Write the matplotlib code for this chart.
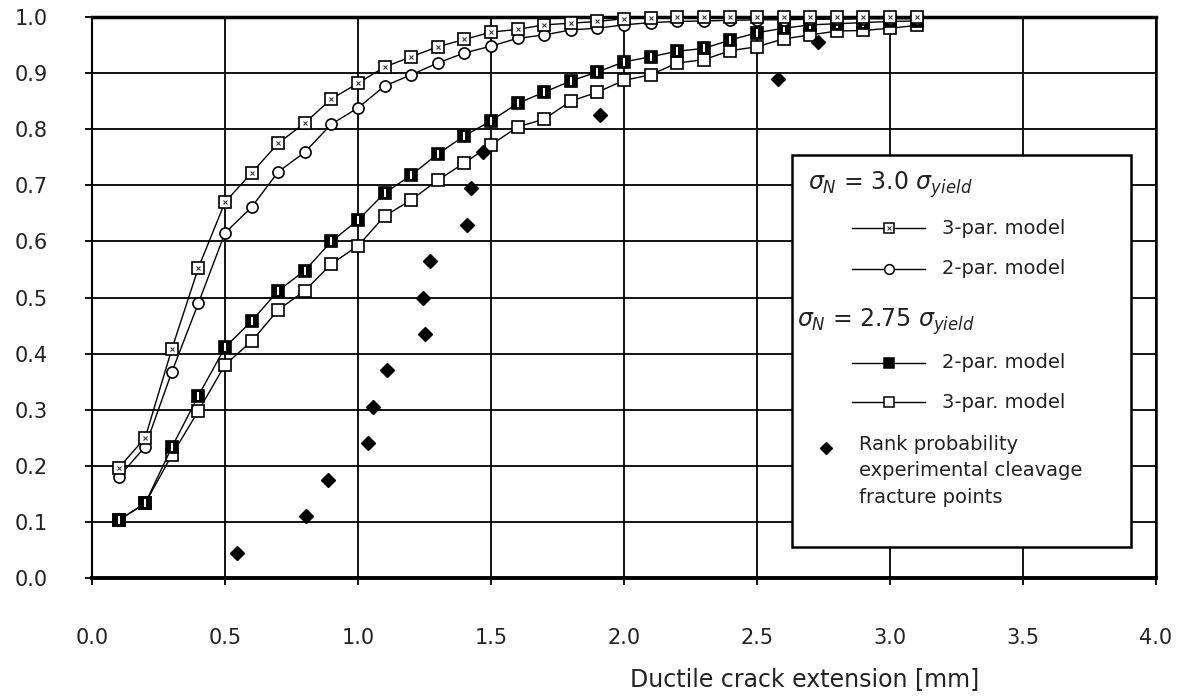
import matplotlib
matplotlib.use("Agg")
import matplotlib.pyplot as plt
from matplotlib.lines import Line2D
from matplotlib.patches import Rectangle

plt.rcParams['font.family'] = ['DejaVu Sans']
plt.rcParams['mathtext.fontset'] = 'dejavusans'

# crack extension values of the model curves [mm]
crack = [0.1, 0.2, 0.3, 0.4, 0.5, 0.6, 0.7, 0.8, 0.9, 1.0, 1.1, 1.2, 1.3, 1.4, 1.5, 1.6,
         1.7, 1.8, 1.9, 2.0, 2.1, 2.2, 2.3, 2.4, 2.5, 2.6, 2.7, 2.8, 2.9, 3.0, 3.1]

# sigma_N = 3.0 sigma_yield
p3_30 = [0.196, 0.250, 0.408, 0.553, 0.670, 0.722, 0.775, 0.811, 0.854, 0.882, 0.911, 0.929,
         0.947, 0.960, 0.973, 0.978, 0.986, 0.989, 0.992, 0.997, 0.999, 1.0, 1.0, 1.0, 1.0,
         1.0, 1.0, 1.0, 1.0, 1.0, 1.0]
p2_30 = [0.180, 0.234, 0.367, 0.490, 0.615, 0.661, 0.724, 0.759, 0.809, 0.838, 0.877, 0.897,
         0.918, 0.936, 0.948, 0.962, 0.968, 0.977, 0.980, 0.986, 0.990, 0.992, 0.993, 0.994,
         0.995, 0.995, 0.996, 0.996, 0.997, 0.997, 0.997]

# sigma_N = 2.75 sigma_yield
p2_275 = [0.103, 0.133, 0.233, 0.325, 0.411, 0.458, 0.512, 0.548, 0.600, 0.638, 0.686, 0.718,
          0.756, 0.788, 0.815, 0.846, 0.866, 0.886, 0.902, 0.920, 0.929, 0.939, 0.944, 0.959,
          0.972, 0.980, 0.986, 0.988, 0.990, 0.992, 0.993]
p3_275 = [0.103, 0.133, 0.219, 0.298, 0.380, 0.422, 0.478, 0.512, 0.560, 0.592, 0.645, 0.674,
          0.709, 0.740, 0.772, 0.804, 0.818, 0.850, 0.866, 0.887, 0.897, 0.918, 0.924, 0.940,
          0.947, 0.961, 0.968, 0.975, 0.976, 0.980, 0.985]

# experimental cleavage fracture points, rank probability
exp_crack = [0.545, 0.805, 0.887, 1.038, 1.056, 1.11, 1.25, 1.245, 1.27, 1.41, 1.425, 1.47,
             1.91, 2.58, 2.73]
exp_rank = [0.045, 0.110, 0.175, 0.240, 0.305, 0.370, 0.435, 0.500, 0.565, 0.630, 0.695,
            0.760, 0.825, 0.890, 0.955]

xticks = [0.0, 0.5, 1.0, 1.5, 2.0, 2.5, 3.0, 3.5, 4.0]
yticks = [0.0, 0.1, 0.2, 0.3, 0.4, 0.5, 0.6, 0.7, 0.8, 0.9, 1.0]

fig = plt.figure(figsize=(11.89, 7), dpi=100)
ax = fig.add_axes([92 / 1189, 122 / 700, 1064 / 1189, 561 / 700])
ax.set_xlim(0, 4)
ax.set_ylim(0, 1)
ax.set_xticks(xticks)
ax.set_yticks(yticks)
ax.set_xticklabels([f'{v:.1f}' for v in xticks])
ax.set_yticklabels([f'{v:.1f}' for v in yticks])
ax.grid(True, color='black', lw=1.3)
ax.set_axisbelow(True)
ax.tick_params(axis='x', direction='out', length=5, width=1.3, pad=31, labelsize=15,
               labelcolor='#222222')
ax.tick_params(axis='y', direction='out', length=5, width=1.3, pad=27, labelsize=15,
               labelcolor='#222222')
for side, w in [('top', 2.5), ('bottom', 2.8), ('left', 1.5), ('right', 1.8)]:
    ax.spines[side].set_linewidth(w)
    ax.spines[side].set_color('black')

sq = dict(marker='s', ms=8.5, mec='black', mew=1.2, color='black', lw=1, clip_on=False)

def hatched(y):
    ax.plot(crack, y, mfc='white', zorder=4, **sq)
    ax.plot(crack, y, ls='none', marker='x', ms=3.5, mew=0.8, color='0.25', zorder=4.1,
            clip_on=False)

def filled(y):
    ax.plot(crack, y, mfc='black', zorder=3, **sq)
    ax.plot(crack, y, ls='none', marker='|', ms=6, mew=1.5, color='white', zorder=3.1,
            clip_on=False)

ax.plot(crack, p3_275, mfc='white', zorder=3, **sq)
filled(p2_275)
ax.plot(crack, p2_30, marker='o', ms=8, mfc='white', mec='black', mew=1.2, color='black',
        lw=1, zorder=4, clip_on=False)
hatched(p3_30)
ax.plot(exp_crack, exp_rank, ls='none', marker='D', ms=7, color='black', zorder=5)

ax.set_xlabel('Ductile crack extension [mm]', fontsize=17, color='#222222')
ax.xaxis.set_label_coords((805 - 92) / 1064, (578 - 667) / 561)


# legend drawn by hand, pixel positions of the reference converted to axes fraction
def px(x, y):
    return (x - 92) / 1064, (578 - y) / 561

x0, y0 = px(792, 547)
x1, y1 = px(1131, 155)
ax.add_patch(Rectangle((x0, y0), x1 - x0, y1 - y0, transform=ax.transAxes, fc='white',
                       ec='black', lw=1.8, zorder=6, clip_on=False))

fs = 14
ax.text(*px(808, 185), r'$\sigma_{\mathit{N}}$ = 3.0 $\sigma_{\mathit{yield}}$',
        transform=ax.transAxes, fontsize=17, va='center', zorder=7, color='#222222')
ax.text(*px(797, 322), r'$\sigma_{\mathit{N}}$ = 2.75 $\sigma_{\mathit{yield}}$',
        transform=ax.transAxes, fontsize=17, va='center', zorder=7, color='#222222')

entries = [(228, 'hatched', '3-par. model'), (269, 'circle', '2-par. model'),
           (363, 'filled', '2-par. model'), (402, 'open', '3-par. model')]
for ypix, kind, label in entries:
    xa, ya = px(852, ypix)
    xb, _ = px(925, ypix)
    xm, _ = px(889, ypix)
    ax.add_line(Line2D([xa, xb], [ya, ya], transform=ax.transAxes, color='black', lw=1,
                       zorder=7))
    if kind == 'circle':
        ax.add_line(Line2D([xm], [ya], transform=ax.transAxes, marker='o', ms=7, mfc='white',
                           mec='black', mew=1.1, zorder=8))
    else:
        face = 'black' if kind == 'filled' else 'white'
        ax.add_line(Line2D([xm], [ya], transform=ax.transAxes, marker='s', ms=7, mfc=face,
                           mec='black', mew=1.1, zorder=8))
        if kind == 'hatched':
            ax.add_line(Line2D([xm], [ya], transform=ax.transAxes, marker='x', ms=3, mew=0.8,
                               color='0.25', zorder=9))
    ax.text(*px(942, ypix), label, transform=ax.transAxes, fontsize=fs, va='center', zorder=7,
            color='#222222')

xd, yd = px(826, 448)
ax.add_line(Line2D([xd], [yd], transform=ax.transAxes, marker='D', ms=6, color='black',
                   zorder=8))
ax.text(*px(859, 435), 'Rank probability\nexperimental cleavage\nfracture points',
        transform=ax.transAxes, fontsize=fs, va='top', linespacing=1.5, zorder=7,
        color='#222222')

fig.savefig('out.png', dpi=100)
